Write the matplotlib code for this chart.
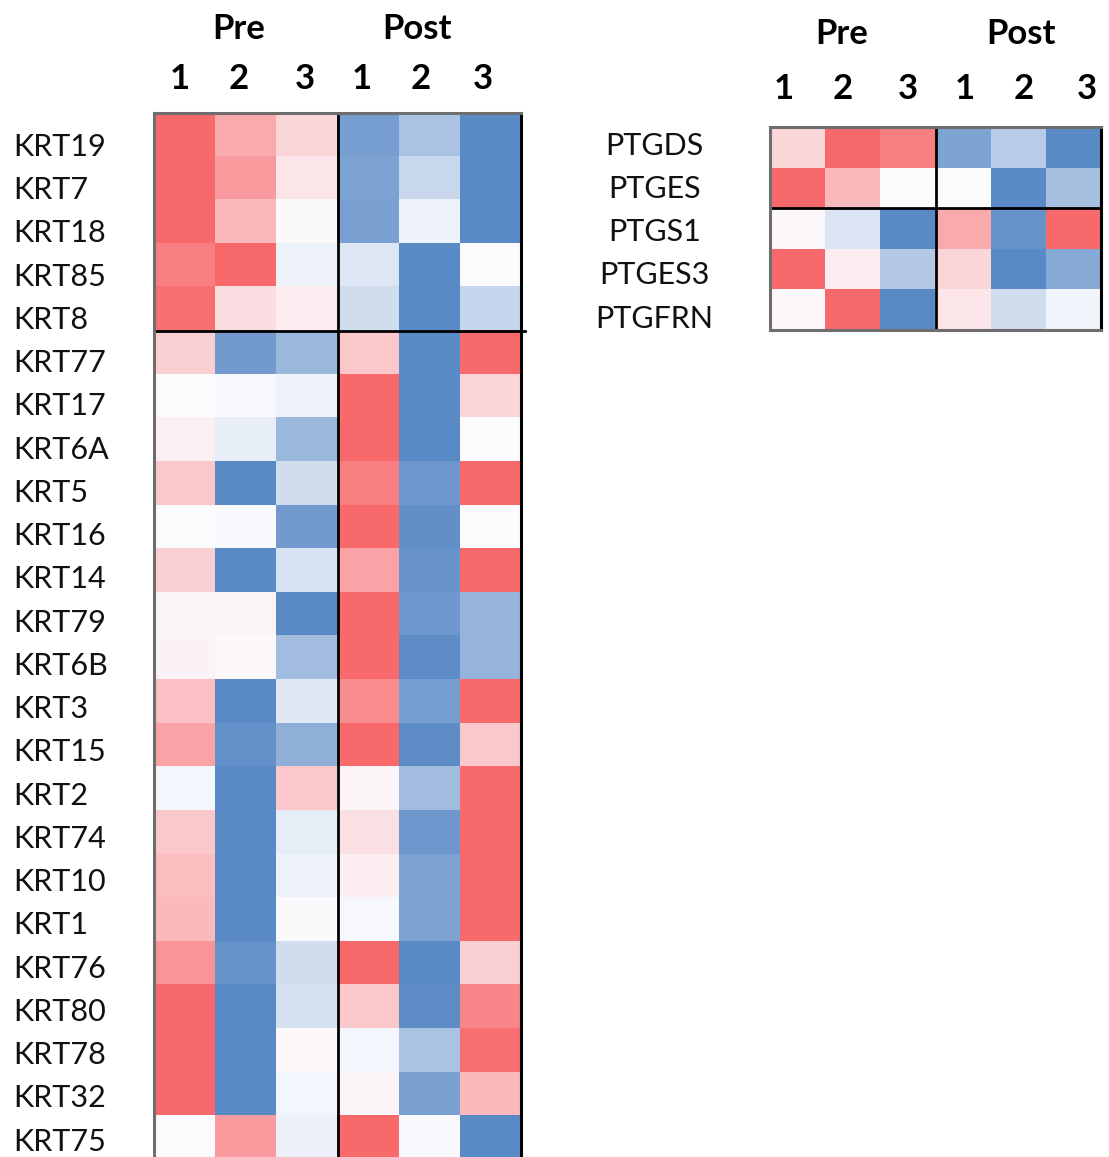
import numpy as np
import matplotlib
matplotlib.use("Agg")
import matplotlib.pyplot as plt
from matplotlib.colors import LinearSegmentedColormap

plt.rcParams['font.family'] = ['Lato', 'DejaVu Sans']

col_labels = ['1', '2', '3', '1', '2', '3']
groups = ['Pre', 'Post']

krt_genes = ['KRT19', 'KRT7', 'KRT18', 'KRT85', 'KRT8', 'KRT77', 'KRT17', 'KRT6A',
             'KRT5', 'KRT16', 'KRT14', 'KRT79', 'KRT6B', 'KRT3', 'KRT15', 'KRT2',
             'KRT74', 'KRT10', 'KRT1', 'KRT76', 'KRT80', 'KRT78', 'KRT32', 'KRT75']
krt_values = [
    [1.00, 0.55, 0.25, -0.82, -0.50, -1.00],
    [1.00, 0.65, 0.15, -0.78, -0.32, -1.00],
    [1.00, 0.45, 0.02, -0.80, -0.08, -1.00],
    [0.85, 1.00, -0.08, -0.18, -1.00, 0.00],
    [0.95, 0.20, 0.10, -0.27, -1.00, -0.33],
    [0.30, -0.85, -0.60, 0.35, -1.00, 1.00],
    [0.00, -0.03, -0.08, 1.00, -1.00, 0.25],
    [0.08, -0.12, -0.60, 1.00, -1.00, 0.00],
    [0.35, -1.00, -0.27, 0.85, -0.88, 1.00],
    [0.00, -0.02, -0.85, 1.00, -0.95, 0.00],
    [0.30, -1.00, -0.22, 0.60, -0.90, 1.00],
    [0.05, 0.05, -1.00, 1.00, -0.87, -0.62],
    [0.07, 0.03, -0.55, 1.00, -0.97, -0.62],
    [0.40, -1.00, -0.17, 0.75, -0.82, 1.00],
    [0.60, -0.93, -0.67, 1.00, -0.97, 0.35],
    [-0.05, -1.00, 0.35, 0.05, -0.55, 1.00],
    [0.35, -1.00, -0.13, 0.18, -0.88, 1.00],
    [0.42, -1.00, -0.08, 0.10, -0.78, 1.00],
    [0.45, -1.00, 0.02, -0.03, -0.78, 1.00],
    [0.70, -0.92, -0.27, 1.00, -1.00, 0.30],
    [1.00, -1.00, -0.24, 0.35, -0.97, 0.80],
    [1.00, -1.00, 0.03, -0.05, -0.50, 0.95],
    [1.00, -1.00, -0.05, 0.04, -0.80, 0.45],
    [0.00, 0.65, -0.10, 1.00, -0.02, -1.00],
]

ptg_genes = ['PTGDS', 'PTGES', 'PTGS1', 'PTGES3', 'PTGFRN']
ptg_values = [
    [0.25, 1.00, 0.85, -0.78, -0.42, -1.00],
    [1.00, 0.45, 0.00, 0.00, -1.00, -0.52],
    [0.03, -0.20, -1.00, 0.55, -0.92, 1.00],
    [1.00, 0.10, -0.45, 0.25, -1.00, -0.72],
    [0.03, 1.00, -1.00, 0.15, -0.27, -0.07],
]

cmap = LinearSegmentedColormap.from_list('excel', ['#5A8AC6', '#FCFCFF', '#F8696B'])

W, H = 1109, 1157
fig = plt.figure(figsize=(W / 100, H / 100), dpi=100)


def px_axes(x0, x1, y0, y1):
    return fig.add_axes([x0 / W, 1 - y1 / H, (x1 - x0) / W, (y1 - y0) / H])


def draw(ax, values, genes, hsplit, label_pad, label_ha, label_size, num_pad,
         grp_x, grp_y, num_x, lab_y0, lab_dy, hline_ext):
    data = np.array(values)
    n = data.shape[0]
    ax.imshow(data, cmap=cmap, vmin=-1, vmax=1, aspect='auto',
              interpolation='nearest')
    ax.set_xlim(-0.5, 5.5)
    ax.set_ylim(n - 0.5, -0.5)
    ax.xaxis.tick_top()
    ax.set_xticks(num_x)
    ax.set_xticklabels(col_labels, fontsize=25, fontweight='bold')
    ax.set_yticks([lab_y0 + i * lab_dy for i in range(n)])
    ax.set_yticklabels(genes, fontsize=label_size, ha=label_ha, color='#111111')
    ax.tick_params(length=0)
    ax.tick_params(axis='y', pad=label_pad)
    ax.tick_params(axis='x', pad=num_pad)
    for s in ax.spines.values():
        s.set_color('#6e6e6e')
        s.set_linewidth(2.2)
    ax.spines['right'].set_color('black')
    ax.axvline(2.5, color='black', lw=2.0)
    ax.plot([-0.5, 5.5 + hline_ext], [hsplit, hsplit], color='black', lw=2.0,
            clip_on=False)
    for g, gx in zip(groups, grp_x):
        ax.text(gx, grp_y, g, transform=ax.get_xaxis_transform(), ha='center',
                va='center', fontsize=25, fontweight='bold')


ax1 = px_axes(154, 521, 113, 113 + 24 * 43.6)
draw(ax1, krt_values, krt_genes, 4.5, 101, 'left', 22, 13,
     [0.88, 3.8], 1.0 + 84 / (24 * 43.6),
     [-0.08, 0.89, 1.97, 2.9, 3.86, 4.88], 0.22, 0.992, 0.06)

ax2 = px_axes(770, 1101, 127, 330)
draw(ax2, ptg_values, ptg_genes, 1.5, 83, 'center', 22, 16,
     [0.8, 4.05], 1.0 + 93 / 203,
     [-0.25, 0.82, 2.0, 3.03, 4.1, 5.25], -0.1, 1.065, 0.0)

fig.savefig('out.png', dpi=100)
